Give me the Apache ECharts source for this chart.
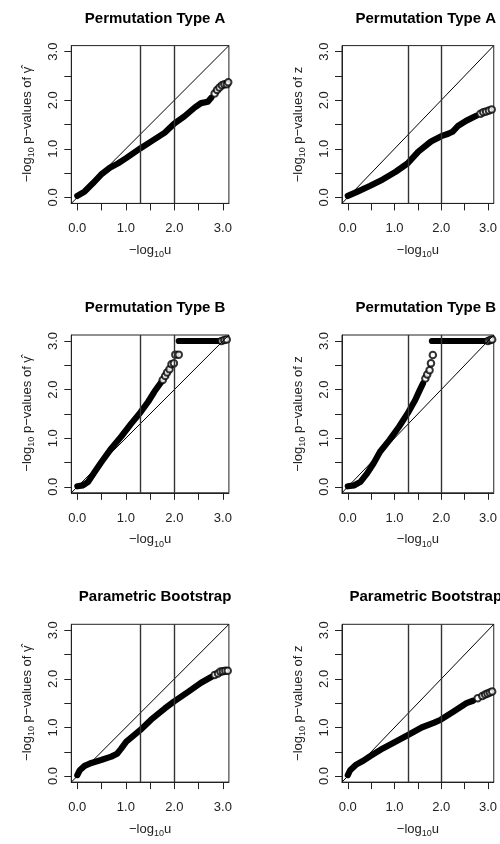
<!DOCTYPE html>
<html>
<head>
<meta charset="utf-8">
<script src="https://cdn.jsdelivr.net/npm/echarts@6/dist/echarts.min.js"></script>
<style>
  html, body { margin: 0; padding: 0; background: #fff; }
  #chart { width: 500px; height: 844px; }
</style>
</head>
<body>
<div id="chart"></div>
<script>
// titles per row, statistic per column
const rowTitles = ['Permutation Type A', 'Permutation Type B', 'Parametric Bootstrap'];
const statNames = ['γ̂', 'z'];

// axis ticks (both axes) and the reference lines
const tickValues = [0, 0.5, 1, 1.5, 2, 2.5, 3];
const labelValues = [0, 1, 2, 3];
const refLines = [1.301, 2];

// QQ points: [-log10 u, -log10 p]; dense part drawn as a band, sparse tail as circles
const permAGamma = [[0, 0.03], [0.15, 0.12], [0.32, 0.29], [0.49, 0.47], [0.67, 0.61], [0.84, 0.70], [1.01, 0.81], [1.30, 1.01], [1.52, 1.15], [1.80, 1.33], [2.00, 1.52], [2.21, 1.67], [2.42, 1.85], [2.55, 1.94], [2.69, 1.97], [2.76, 2.05]];
const permAGammaTail = [[2.83, 2.14], [2.88, 2.21], [2.93, 2.26], [2.98, 2.31], [3.03, 2.33], [3.08, 2.33], [3.11, 2.37]];

const permAZ = [[0, 0.03], [0.21, 0.12], [0.48, 0.24], [0.75, 0.37], [1.03, 0.53], [1.28, 0.70], [1.51, 0.94], [1.78, 1.15], [2.00, 1.26], [2.15, 1.31], [2.24, 1.35], [2.36, 1.47], [2.54, 1.58], [2.75, 1.68]];
const permAZTail = [[2.84, 1.72], [2.90, 1.75], [2.96, 1.77], [3.02, 1.79], [3.08, 1.81]];

const permBGamma = [[0, 0.01], [0.12, 0.03], [0.22, 0.10], [0.36, 0.31], [0.49, 0.50], [0.70, 0.79], [0.91, 1.04], [1.11, 1.30], [1.30, 1.53], [1.46, 1.75], [1.59, 1.96], [1.72, 2.14]];
const permBGammaTail = [[1.76, 2.20], [1.81, 2.28], [1.85, 2.35], [1.90, 2.42], [1.94, 2.52], [1.99, 2.54], [2.02, 2.72], [2.09, 2.72], [2.97, 3.0], [3.03, 3.02], [3.08, 3.03]];
const permBGammaTop = [[2.09, 3.0], [2.92, 3.0]];

const permBZ = [[0, 0.01], [0.14, 0.03], [0.27, 0.10], [0.41, 0.27], [0.55, 0.48], [0.69, 0.72], [0.89, 0.96], [1.10, 1.24], [1.28, 1.51], [1.44, 1.78], [1.54, 1.99], [1.61, 2.13]];
const permBZTail = [[1.66, 2.23], [1.70, 2.31], [1.75, 2.40], [1.78, 2.54], [1.82, 2.71], [3.00, 3.0], [3.05, 3.02], [3.09, 3.03]];
const permBZTop = [[1.80, 3.0], [2.95, 3.0]];

const bootGamma = [[0, 0.02], [0.05, 0.12], [0.15, 0.21], [0.29, 0.27], [0.49, 0.33], [0.70, 0.40], [0.82, 0.46], [0.90, 0.56], [1.01, 0.71], [1.30, 0.95], [1.52, 1.16], [1.80, 1.39], [2.00, 1.54], [2.28, 1.73], [2.55, 1.92], [2.76, 2.04]];
const bootGammaTail = [[2.83, 2.08], [2.90, 2.11], [2.95, 2.15], [3.00, 2.16], [3.05, 2.17], [3.10, 2.17]];

const bootZ = [[0, 0.02], [0.05, 0.12], [0.17, 0.23], [0.34, 0.32], [0.48, 0.41], [0.75, 0.57], [1.03, 0.71], [1.28, 0.84], [1.58, 1.00], [1.85, 1.10], [1.99, 1.16], [2.27, 1.33], [2.54, 1.50], [2.68, 1.55]];
const bootZTail = [[2.78, 1.60], [2.88, 1.65], [2.94, 1.68], [2.99, 1.70], [3.04, 1.72], [3.09, 1.74]];

const panels = [
  { band: permAGamma, tail: permAGammaTail, top: [] },
  { band: permAZ, tail: permAZTail, top: [] },
  { band: permBGamma, tail: permBGammaTail, top: permBGammaTop },
  { band: permBZ, tail: permBZTail, top: permBZTop },
  { band: bootGamma, tail: bootGammaTail, top: [] },
  { band: bootZ, tail: bootZTail, top: [] },
];

// R-style 4% padding around 0..3
const LO = -0.124, HI = 3.124;
const colLeft = [71.3, 342];
const rowTop = [45.6, 335, 624.3];
const titleTop = [6, 295, 584.5];
const plotW = 157.6, plotH = 157.8;
const font = "'Liberation Sans', Arial, Helvetica, sans-serif";
const ink = '#222';

const nameRich = {
  a: { fontSize: 13, lineHeight: 18, color: ink, fontFamily: font },
  s: { fontSize: 9, lineHeight: 10, verticalAlign: 'bottom', color: ink, fontFamily: font },
};

const chart = echarts.init(document.getElementById('chart'));

const grid = [], xAxis = [], yAxis = [], title = [], series = [];

panels.forEach((p, i) => {
  const row = Math.floor(i / 2), col = i % 2;
  grid.push({
    left: colLeft[col], top: rowTop[row], width: plotW, height: plotH,
    show: true, borderColor: ink, borderWidth: 1, backgroundColor: 'transparent',
  });
  title.push({
    text: rowTitles[row],
    left: colLeft[col] + plotW / 2, top: titleTop[row], textAlign: 'center',
    textStyle: { fontSize: 15, fontWeight: 'bold', color: '#000', fontFamily: font },
  });
  xAxis.push({
    gridIndex: i, type: 'value', min: LO, max: HI,
    axisLine: { show: true, onZero: false, lineStyle: { color: ink, width: 1 } },
    axisTick: { show: true, length: 7, customValues: tickValues, lineStyle: { color: ink } },
    axisLabel: {
      customValues: labelValues, formatter: v => v.toFixed(1),
      fontSize: 13, color: ink, margin: 19, fontFamily: font,
    },
    splitLine: { show: false },
    name: '{a|−log}{s|10}{a|u}', nameLocation: 'middle', nameGap: 38,
    nameTextStyle: { rich: nameRich },
  });
  yAxis.push({
    gridIndex: i, type: 'value', min: LO, max: HI,
    axisLine: { show: true, onZero: false, lineStyle: { color: ink, width: 1 } },
    axisTick: { show: true, length: 7, customValues: tickValues, lineStyle: { color: ink } },
    axisLabel: {
      customValues: labelValues, formatter: v => v.toFixed(1), rotate: 90,
      fontSize: 13, color: ink, margin: 11, fontFamily: font,
    },
    splitLine: { show: false },
    name: '{a|−log}{s|10}{a| p−values of ' + statNames[col] + '}',
    nameLocation: 'middle', nameRotate: 90, nameGap: 35,
    nameTextStyle: { rich: nameRich },
  });

  series.push({
    type: 'line', xAxisIndex: i, yAxisIndex: i, data: p.band,
    showSymbol: false, silent: true,
    lineStyle: { color: '#000', width: 6.2, cap: 'round', join: 'round' },
    markLine: {
      silent: true, symbol: ['none', 'none'], label: { show: false },
      lineStyle: { color: '#000', type: 'solid', width: 1 },
      data: [
        [{ coord: [LO, LO] }, { coord: [HI, HI] }],
        ...refLines.map(v => ({ xAxis: v, lineStyle: { color: '#333', width: 1.4 } })),
      ],
    },
    z: 3,
  });
  if (p.top.length) {
    series.push({
      type: 'line', xAxisIndex: i, yAxisIndex: i, data: p.top,
      showSymbol: false, silent: true,
      lineStyle: { color: '#000', width: 6.2, cap: 'round' }, z: 3,
    });
  }
  series.push({
    type: 'scatter', xAxisIndex: i, yAxisIndex: i, data: p.tail,
    symbol: 'emptyCircle', symbolSize: 6.5, silent: true,
    itemStyle: { color: '#000', borderColor: '#000', borderWidth: 1.4 }, z: 4,
  });
});

chart.setOption({ animation: false, title, grid, xAxis, yAxis, series });
</script>
</body>
</html>
